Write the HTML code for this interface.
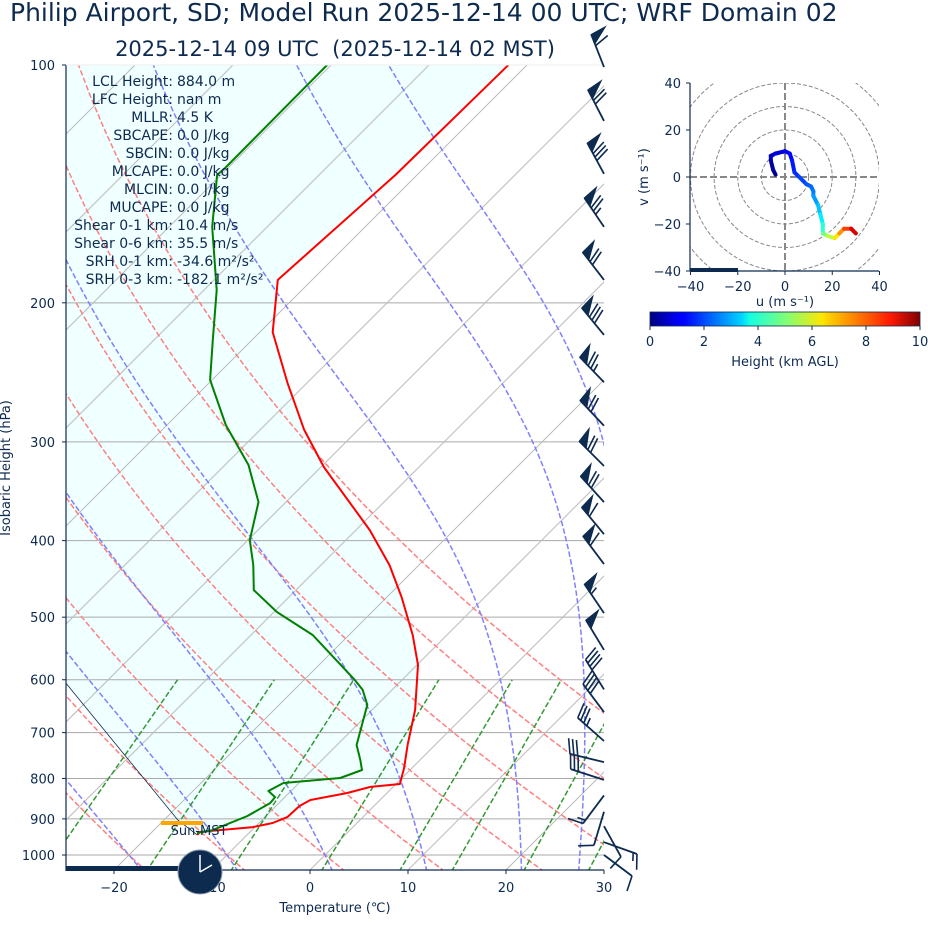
<!DOCTYPE html>
<html><head><meta charset="utf-8"><style>
html,body{margin:0;padding:0;background:#fff;}
svg{display:block;font-family:"DejaVu Sans","Liberation Sans",sans-serif;}
text{fill:#0d2a4f;}
</style></head><body>
<svg id="root" width="928" height="936" viewBox="0 0 928 936" xmlns="http://www.w3.org/2000/svg">
<defs>
<clipPath id="plotclip"><rect x="66" y="65" width="538" height="805"/></clipPath>
<clipPath id="hodoclip"><rect x="690" y="83" width="189" height="188"/></clipPath>
<linearGradient id="jet" x1="0" x2="1" y1="0" y2="0">
<stop offset="0" stop-color="#00007f"/><stop offset="0.11" stop-color="#0000ff"/><stop offset="0.125" stop-color="#0000ff"/>
<stop offset="0.34" stop-color="#00d4ff"/><stop offset="0.37" stop-color="#16ffe1"/><stop offset="0.5" stop-color="#7dff7a"/>
<stop offset="0.64" stop-color="#ffe600"/><stop offset="0.66" stop-color="#ffd000"/><stop offset="0.89" stop-color="#ff1a00"/><stop offset="1" stop-color="#7f0000"/>
</linearGradient>
</defs>
<text x="10" y="21" font-size="25">Philip Airport, SD; Model Run 2025-12-14 00 UTC; WRF Domain 02</text>
<text x="335" y="56" font-size="21" text-anchor="middle" xml:space="preserve">2025-12-14 09 UTC  (2025-12-14 02 MST)</text>
<g id="skew"></g>
<g id="hodo"></g>
<text transform="translate(10,468) rotate(-90)" font-size="13" text-anchor="middle">Isobaric Height (hPa)</text>
<text x="335" y="912" font-size="13" text-anchor="middle">Temperature (℃)</text>
<rect x="650" y="312" width="270" height="14" fill="url(#jet)" stroke="#0d2a4f" stroke-width="0.8"/>
<text x="785" y="366" font-size="13" text-anchor="middle">Height (km AGL)</text>
<text transform="translate(648,177) rotate(-90)" font-size="13" text-anchor="middle">v (m s⁻¹)</text>
<text x="785" y="306" font-size="13" text-anchor="middle">u (m s⁻¹)</text>
</svg>
<script>
// ---------- data ----------
const tempP=[100,137.8,187.1,217.8,252.6,289.7,322.8,387.8,429.6,471.5,526.7,574.8,655.3,725.6,776.1,813,820,835,852,867,895,911,922,935,943];
const tempT=[-61.9,-62.2,-63.5,-58.7,-52.0,-45.5,-39.7,-28.6,-23.0,-18.5,-13.5,-9.9,-5.6,-2.8,-0.8,0.4,-2.3,-4.1,-7.1,-7.6,-7.7,-8.6,-10.2,-15.1,-15.1];
const dewP=[100,135.0,137.8,160.3,192.7,222.9,250.4,285.6,320.9,357.5,399.4,429.6,462.0,492.5,526.7,600.6,618,645.7,725.6,758,780.6,799,810.6,829.9,844.6,859.6,892.5,929.9,938];
const dewT=[-80.4,-80.3,-80.4,-75.6,-68.7,-64.0,-60.2,-54.0,-47.6,-42.8,-39.8,-36.9,-34.3,-29.7,-23.7,-14.8,-13.0,-11.0,-8.0,-6.1,-4.9,-6.3,-11.6,-12.3,-11.0,-10.9,-11.9,-14.0,-15.3];
const parcelP=[943,902.9,605.8,300];
const parcelT=[-15.1,-18.6,-44.0,-85];
const barbP=[100.6,117.7,137.3,160.3,187.1,219.6,252.1,286.2,321.8,357.5,392.6,428.3,494.2,550.1,617.2,659.2,717.3,762.8,803.3,840.7,881.6,919.5,963.4,1000];
const barbU=[22,32,38,42,43,51,52,48,50,47,38,36,31,26,21,24,26,29,28,9,3,-5,-14,-8];
const barbV=[-56,-62,-70,-62,-56,-62,-54,-51,-50,-52,-46,-48,-46,-43,-34,-32,-23,-7,-9,12,10,9,5,6];
const hodoU=[-4,-5,-6,-6,-4,0,2,3,4,6,9,11,12,12,14,15,16,16,18,21,23,25,28,30];
const hodoV=[1,3,7,9,10,11,10,7,2,0,-3,-4,-6,-8,-12,-16,-20,-24,-25,-26,-24,-22,-22,-24];
const hodoZ=[0,0.2,0.4,0.6,0.8,1.0,1.2,1.4,1.6,1.8,2.0,2.2,2.4,2.6,3.0,3.4,3.8,4.6,5.2,6.0,7.0,7.6,8.6,9.6];
const pTicks=[100,200,300,400,500,600,700,800,900,1000];
const tTicks=[-20,-10,0,10,20,30];
const hodoTicks=[-40,-20,0,20,40];
const cbTicks=[0,2,4,6,8,10];
const dryTheta=[-40,-30,-20,-10,0,10,20,30,40,50];
const moistT0=[-30,-20,-10,0,10,20,26,29];
const mixW=[0.0004,0.001,0.002,0.004,0.007,0.01,0.016,0.024,0.032];
const statLabels=["LCL Height:","LFC Height:","MLLR:","SBCAPE:","SBCIN:","MLCAPE:","MLCIN:","MUCAPE:","Shear 0-1 km:","Shear 0-6 km:","SRH 0-1 km:","SRH 0-3 km:"];
const statValues=["884.0 m","nan m","4.5 K","0.0 J/kg","0.0 J/kg","0.0 J/kg","0.0 J/kg","0.0 J/kg","10.4 m/s","35.5 m/s","-34.6 m²/s²","-182.1 m²/s²"];

// ---------- helpers ----------
const NS="http://www.w3.org/2000/svg";
function mk(tag,attrs,parent){const e=document.createElementNS(NS,tag);for(const k in attrs)e.setAttribute(k,attrs[k]);parent.appendChild(e);return e;}
const yOf=p=>65+790*Math.log10(p/100);
const xOf=(T,p)=>310+9.8*T+(870-yOf(p));
const NAVY="#0d2a4f";
const skew=document.getElementById('skew');
const hodo=document.getElementById('hodo');

const clipG=mk('g',{'clip-path':'url(#plotclip)'},skew);


let fillPts=[];
for(let i=0;i<tempP.length;i++)fillPts.push([xOf(tempT[i],tempP[i]),yOf(tempP[i])]);
for(let i=0;i<parcelP.length;i++)fillPts.push([xOf(parcelT[i],parcelP[i]),yOf(parcelP[i])]);
fillPts.push([40,60]);
const fillEl=mk('polygon',{points:fillPts.map(p=>p.join(',')).join(' '),fill:'#f0ffff'},clipG);



for(const p of pTicks){
  const l=mk('line',{x1:66,x2:604,y1:yOf(p),y2:yOf(p),stroke:'#aaaaaa','stroke-width':1},clipG);
  
  
}
for(let T=-120;T<=40;T+=10){
  const l=mk('line',{x1:xOf(T,1050),y1:yOf(1050),x2:xOf(T,100),y2:yOf(100),stroke:'#bbbbbb','stroke-width':1},clipG);
  
  
}
const plevs=[];for(let p=1050;p>=100;p-=10)plevs.push(p);
for(const th of dryTheta){
  const pts=plevs.map(p=>{const T=(th+273.15)*Math.pow(p/1000,0.2857)-273.15;return xOf(T,p).toFixed(1)+','+yOf(p).toFixed(1);});
  const l=mk('polyline',{points:pts.join(' '),fill:'none',stroke:'#ff8080','stroke-width':1.5,'stroke-dasharray':'5.5,2.4'},clipG);
  
  
}
function es(T){return 6.112*Math.exp(17.67*T/(T+243.5));}
function dTdp(p,Tk){const Rd=287.04,Cp=1005.7,Lv=2.501e6,eps=0.622;const rs=eps*es(Tk-273.15)/(p-es(Tk-273.15));
  return (Rd*Tk+Lv*rs)/(p*(Cp+Lv*Lv*rs*eps/(Rd*Tk*Tk)));}
function moist(T0){
  const up=[],dn=[];let T=T0+273.15;
  for(let p=1000;p>=100;p-=5){up.push([p,T]);T-=dTdp(p,T)*5;}
  T=T0+273.15;for(let p=1000;p<=1050;p+=5){dn.push([p,T]);T+=dTdp(p,T)*5;}
  return dn.reverse().concat(up);
}
for(const t0 of moistT0){
  const pts=moist(t0).map(([p,Tk])=>xOf(Tk-273.15,p).toFixed(1)+','+yOf(p).toFixed(1));
  const l=mk('polyline',{points:pts.join(' '),fill:'none',stroke:'#8080ff','stroke-width':1.5,'stroke-dasharray':'5.5,2.4'},clipG);
  
  
}
for(const w of mixW){
  const pts=[];
  for(const p of [1050,600]){const e=p*w/(0.622+w);const a=Math.log(e/6.112);const Td=243.5*a/(17.67-a);pts.push(xOf(Td,p).toFixed(1)+','+yOf(p).toFixed(1));}
  const l=mk('polyline',{points:pts.join(' '),fill:'none',stroke:'#339933','stroke-width':1.5,'stroke-dasharray':'5.5,2.4'},clipG);
  
  
}
const parcel=mk('polyline',{points:parcelP.map((p,i)=>xOf(parcelT[i],p).toFixed(1)+','+yOf(p).toFixed(1)).join(' '),fill:'none',stroke:NAVY,'stroke-width':0.8},clipG);


const tline=mk('polyline',{points:tempP.map((p,i)=>xOf(tempT[i],p).toFixed(1)+','+yOf(p).toFixed(1)).join(' '),fill:'none',stroke:'#ff0000','stroke-width':2,'stroke-linejoin':'round'},clipG);


const dline=mk('polyline',{points:dewP.map((p,i)=>xOf(dewT[i],p).toFixed(1)+','+yOf(p).toFixed(1)).join(' '),fill:'none',stroke:'#008000','stroke-width':2,'stroke-linejoin':'round'},clipG);



const ls=mk('line',{x1:66,x2:66,y1:65,y2:871,stroke:NAVY,'stroke-width':1.2},skew);


const bs=mk('line',{x1:66,x2:604,y1:870,y2:870,stroke:NAVY,'stroke-width':1.2},skew);


const ts=mk('line',{x1:66,x2:604,y1:65,y2:65,stroke:'#eeeeee','stroke-width':1},skew);


for(const p of pTicks){
  const y=yOf(p);
  const t=mk('line',{x1:62,x2:66,y1:y,y2:y,stroke:NAVY},skew);
  
  
  const tx=mk('text',{x:55,y:y+5,'font-size':13,'text-anchor':'end'},skew);tx.textContent=p;
  
  
}
for(const T of tTicks){
  const x=310+9.8*T;
  const t=mk('line',{x1:x,x2:x,y1:870,y2:874,stroke:NAVY},skew);
  
  
  const tx=mk('text',{x:x,y:892,'font-size':13,'text-anchor':'middle'},skew);tx.textContent=(T<0?'−':'')+Math.abs(T);
  
  
}
statLabels.forEach((s,i)=>{
  const y=86+i*18;
  const a=mk('text',{x:173,y:y,'font-size':14,'text-anchor':'end'},skew);a.textContent=s;
  
  
  const b=mk('text',{x:177,y:y,'font-size':14},skew);b.textContent=statValues[i];
  
  
});

// wind barbs
barbP.forEach((p,i)=>{
  const u=barbU[i],v=barbV[i];const s=Math.hypot(u,v);
  const g=mk('g',{},skew);
  
  
  const bx=604,by=yOf(p);const dx=-u/s,dy=v/s;const L=35;
  const tx=bx+dx*L,ty=by+dy*L;const px=-dy,py=dx;
  mk('line',{x1:bx,y1:by,x2:tx,y2:ty,stroke:NAVY,'stroke-width':1.8},g);
  let r=Math.round(s/5)*5;let pos=0;
  while(r>=50){
    const ax=tx-dx*pos,ay=ty-dy*pos;const cx=tx-dx*(pos+10),cy=ty-dy*(pos+10);
    const ox=ax+px*16+dx*2,oy=ay+py*16+dy*2;
    mk('polygon',{points:`${ax},${ay} ${ox},${oy} ${cx},${cy}`,fill:NAVY,stroke:NAVY,'stroke-width':1},g);
    pos+=12;r-=50;
  }
  while(r>=10){
    const ax=tx-dx*pos,ay=ty-dy*pos;
    mk('line',{x1:ax,y1:ay,x2:ax+px*15+dx*5,y2:ay+py*15+dy*5,stroke:NAVY,'stroke-width':1.6},g);
    pos+=4;r-=10;
  }
  if(r>=5){
    if(pos===0)pos=4;
    const ax=tx-dx*pos,ay=ty-dy*pos;
    mk('line',{x1:ax,y1:ay,x2:ax+px*8+dx*2.5,y2:ay+py*8+dy*2.5,stroke:NAVY,'stroke-width':1.6},g);
  }
});

const bar=mk('rect',{x:66,y:866,width:112,height:5,fill:NAVY},skew);


const ob=mk('rect',{x:161,y:821,width:42,height:4,fill:'#ffa500'},skew);


const st=mk('text',{x:199,y:835,'font-size':13,'text-anchor':'middle'},skew);st.textContent='Sun-MST';


const clk=mk('g',{},skew);


mk('circle',{cx:200,cy:872,r:22,fill:NAVY,stroke:'#8899aa','stroke-width':1},clk);
mk('line',{x1:200,y1:872,x2:200,y2:855,stroke:'#fff','stroke-width':1.5},clk);
mk('line',{x1:200,y1:872,x2:212,y2:865,stroke:'#fff','stroke-width':1.5},clk);

// ---------- hodograph ----------
const hx=u=>785+u*2.3625, hy=v=>177-v*2.35;
const hc=mk('g',{'clip-path':'url(#hodoclip)'},hodo);


for(let r=10;r<=60;r+=10){
  const c=mk('ellipse',{cx:785,cy:177,rx:r*2.3625,ry:r*2.35,fill:'none',stroke:'#888','stroke-width':1,'stroke-dasharray':'4,2'},hc);
  
  
}
const ha=mk('line',{x1:690,x2:879,y1:177,y2:177,stroke:'#888','stroke-width':2,'stroke-dasharray':'7,3'},hc);


const hb=mk('line',{x1:785,x2:785,y1:83,y2:271,stroke:'#888','stroke-width':2,'stroke-dasharray':'7,3'},hc);


function jet(z){const t=Math.max(0,Math.min(1,z/10));
  const r=Math.max(0,Math.min(1,1.5-Math.abs(4*t-3))),g=Math.max(0,Math.min(1,1.5-Math.abs(4*t-2))),b=Math.max(0,Math.min(1,1.5-Math.abs(4*t-1)));
  return `rgb(${Math.round(r*255)},${Math.round(g*255)},${Math.round(b*255)})`;}
for(let i=0;i<hodoU.length-1;i++){
  const s=mk('line',{x1:hx(hodoU[i]),y1:hy(hodoV[i]),x2:hx(hodoU[i+1]),y2:hy(hodoV[i+1]),stroke:jet((hodoZ[i]+hodoZ[i+1])/2),'stroke-width':4,'stroke-linecap':'round'},hc);
  
  
}
const hbar=mk('rect',{x:690,y:268,width:48,height:4,fill:NAVY},hodo);


const hl=mk('line',{x1:690,x2:690,y1:83,y2:271,stroke:NAVY,'stroke-width':1.2},hodo);


const hbs=mk('line',{x1:690,x2:879,y1:271,y2:271,stroke:NAVY,'stroke-width':1.2},hodo);


for(const t of hodoTicks){
  const lab=(t<0?'−':'')+Math.abs(t);
  const a=mk('text',{x:hx(t),y:291,'font-size':13,'text-anchor':'middle'},hodo);a.textContent=lab;
  
  
  const b=mk('text',{x:681,y:hy(t)+5,'font-size':13,'text-anchor':'end'},hodo);b.textContent=lab;
  
  
  const c=mk('line',{x1:hx(t),x2:hx(t),y1:271,y2:275,stroke:NAVY},hodo);
  
  
  const d=mk('line',{x1:686,x2:690,y1:hy(t),y2:hy(t),stroke:NAVY},hodo);
  
  
}
for(const t of cbTicks){
  const x=650+t*27;
  const a=mk('text',{x:x,y:346,'font-size':13,'text-anchor':'middle'},hodo);a.textContent=t;
  
  
  const c=mk('line',{x1:x,x2:x,y1:326,y2:330,stroke:NAVY},hodo);
  
  
}
</script>
</body></html>
